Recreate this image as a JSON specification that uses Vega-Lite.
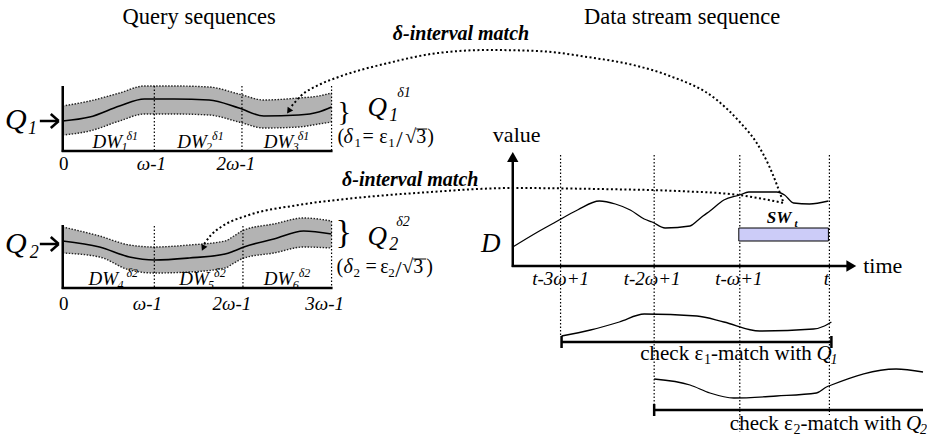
{
"$schema": "https://vega.github.io/schema/vega-lite/v6.json",
"width": 927, "height": 439, "padding": 0,
"autosize": {"type": "fit", "contains": "padding"},
"background": "white",
"config": {"view": {"stroke": null}, "text": {"font": "Liberation Serif, DejaVu Serif, serif", "color": "black", "align": "left", "baseline": "alphabetic"}},
"datasets": {
"bands": [
{"band":"Q1","x":63,"hi":106,"c":121,"lo":135},
{"band":"Q1","x":90,"hi":101,"c":117,"lo":131},
{"band":"Q1","x":120,"hi":93,"c":106,"lo":121},
{"band":"Q1","x":145,"hi":86,"c":99,"lo":114},
{"band":"Q1","x":175,"hi":86,"c":99,"lo":114},
{"band":"Q1","x":210,"hi":87,"c":100,"lo":115},
{"band":"Q1","x":240,"hi":94,"c":108,"lo":122},
{"band":"Q1","x":265,"hi":100,"c":116,"lo":128},
{"band":"Q1","x":300,"hi":98,"c":115,"lo":127},
{"band":"Q1","x":320,"hi":96,"c":112,"lo":124},
{"band":"Q1","x":333,"hi":93,"c":107,"lo":122},
{"band":"Q2","x":63,"hi":227,"c":241,"lo":253},
{"band":"Q2","x":100,"hi":236,"c":247,"lo":257},
{"band":"Q2","x":130,"hi":245,"c":257,"lo":270},
{"band":"Q2","x":155,"hi":247,"c":260,"lo":273},
{"band":"Q2","x":190,"hi":245,"c":258,"lo":272},
{"band":"Q2","x":226,"hi":241,"c":254,"lo":268},
{"band":"Q2","x":235,"hi":236,"c":251,"lo":263},
{"band":"Q2","x":245,"hi":230,"c":247,"lo":258},
{"band":"Q2","x":275,"hi":224,"c":239,"lo":253},
{"band":"Q2","x":305,"hi":218,"c":231,"lo":247},
{"band":"Q2","x":333,"hi":221,"c":234,"lo":248}
],
"curves": [
{"curve":"D","x":515,"y":247},{"curve":"D","x":540,"y":232},{"curve":"D","x":558,"y":222},{"curve":"D","x":580,"y":210},{"curve":"D","x":602,"y":201},{"curve":"D","x":618,"y":204},{"curve":"D","x":633,"y":210},{"curve":"D","x":647,"y":219},{"curve":"D","x":655,"y":222},{"curve":"D","x":668,"y":228},{"curve":"D","x":693,"y":226},{"curve":"D","x":700,"y":221},{"curve":"D","x":706,"y":216},{"curve":"D","x":713,"y":211},{"curve":"D","x":727,"y":200},{"curve":"D","x":743,"y":195},{"curve":"D","x":752,"y":192},{"curve":"D","x":780,"y":192},{"curve":"D","x":788,"y":195},{"curve":"D","x":797,"y":203},{"curve":"D","x":813,"y":204},{"curve":"D","x":832,"y":201},
{"curve":"C1","x":564,"y":336},{"curve":"C1","x":593,"y":330},{"curve":"C1","x":622,"y":322},{"curve":"C1","x":647,"y":314},{"curve":"C1","x":700,"y":316},{"curve":"C1","x":727,"y":322},{"curve":"C1","x":763,"y":331},{"curve":"C1","x":817,"y":329},{"curve":"C1","x":828,"y":326},{"curve":"C1","x":835,"y":322},
{"curve":"C2","x":657,"y":379},{"curve":"C2","x":693,"y":385},{"curve":"C2","x":713,"y":393},{"curve":"C2","x":737,"y":398},{"curve":"C2","x":780,"y":396},{"curve":"C2","x":820,"y":393},{"curve":"C2","x":830,"y":387},{"curve":"C2","x":835,"y":385},{"curve":"C2","x":900,"y":369},{"curve":"C2","x":927,"y":372}
],
"arcs": [
{"arc":"A1","x":293,"y":106},{"arc":"A1","x":302,"y":96},{"arc":"A1","x":320,"y":85},{"arc":"A1","x":340,"y":77},{"arc":"A1","x":390,"y":63},{"arc":"A1","x":440,"y":53},{"arc":"A1","x":490,"y":50},{"arc":"A1","x":540,"y":51},{"arc":"A1","x":590,"y":57},{"arc":"A1","x":640,"y":66},{"arc":"A1","x":670,"y":75},{"arc":"A1","x":720,"y":100},{"arc":"A1","x":743,"y":122},{"arc":"A1","x":760,"y":143},{"arc":"A1","x":772,"y":165},{"arc":"A1","x":787,"y":203},
{"arc":"A2","x":205,"y":244},{"arc":"A2","x":212,"y":235},{"arc":"A2","x":222,"y":227},{"arc":"A2","x":250,"y":215},{"arc":"A2","x":300,"y":205},{"arc":"A2","x":367,"y":197},{"arc":"A2","x":433,"y":192},{"arc":"A2","x":480,"y":189},{"arc":"A2","x":515,"y":188},{"arc":"A2","x":600,"y":189},{"arc":"A2","x":680,"y":191},{"arc":"A2","x":742,"y":195},{"arc":"A2","x":787,"y":203}
],
"rules": [
{"k":"axis","x":63,"y":86,"x2":63,"y2":152},{"k":"axis","x":62,"y":151,"x2":334,"y2":151},
{"k":"axis","x":63,"y":225,"x2":63,"y2":289},{"k":"axis","x":62,"y":288,"x2":334,"y2":288},
{"k":"axis","x":40,"y":121,"x2":58,"y2":121},{"k":"axis","x":51,"y":114,"x2":59,"y2":121},{"k":"axis","x":51,"y":128,"x2":59,"y2":121},
{"k":"axis","x":40,"y":244,"x2":58,"y2":244},{"k":"axis","x":51,"y":237,"x2":59,"y2":244},{"k":"axis","x":51,"y":251,"x2":59,"y2":244},
{"k":"axis","x":515,"y":160,"x2":515,"y2":267},{"k":"axis","x":514,"y":266,"x2":852,"y2":266},
{"k":"axis","x":564,"y":342,"x2":835,"y2":342},{"k":"axis","x":564,"y":336,"x2":564,"y2":348},{"k":"axis","x":835,"y":336,"x2":835,"y2":348},
{"k":"axis","x":657,"y":410,"x2":927,"y2":410},{"k":"axis","x":657,"y":404,"x2":657,"y2":416},
{"k":"grid","x":155,"y":86,"x2":155,"y2":151},{"k":"grid","x":243,"y":86,"x2":243,"y2":151},{"k":"grid","x":333,"y":86,"x2":333,"y2":151},
{"k":"grid","x":155,"y":226,"x2":155,"y2":288},{"k":"grid","x":244,"y":226,"x2":244,"y2":288},{"k":"grid","x":333,"y":221,"x2":333,"y2":288},
{"k":"grid","x":563,"y":155,"x2":563,"y2":337},{"k":"grid","x":657,"y":155,"x2":657,"y2":404},{"k":"grid","x":743,"y":155,"x2":743,"y2":432},{"k":"grid","x":833,"y":155,"x2":833,"y2":415},
{"k":"thin","x":418,"y":129,"x2":429,"y2":129},{"k":"thin","x":415,"y":259,"x2":428,"y2":259}
],
"texts": [
{"k":"title","t":"Query sequences","x":200,"y":24},{"k":"title","t":"Data stream sequence","x":685,"y":24},
{"k":"hdr","t":"δ-interval match","x":463,"y":40},{"k":"hdr","t":"δ-interval match","x":412,"y":186},
{"k":"bigl","t":"Q","x":5,"y":129},{"k":"bigl","t":"Q","x":5,"y":253},
{"k":"big","t":"Q","x":369,"y":116},{"k":"big","t":"Q","x":369,"y":245},{"k":"big","t":"D","x":483,"y":252},
{"k":"bigsub","t":"1","x":28,"y":134},{"k":"bigsub","t":"2","x":30,"y":258},{"k":"bigsub","t":"1","x":391,"y":121},{"k":"bigsub","t":"2","x":391,"y":250},
{"k":"qsup","t":"δ1","x":399,"y":97},{"k":"qsup","t":"δ2","x":398,"y":226},
{"k":"dw","t":"DW","x":93,"y":148},{"k":"dw","t":"DW","x":178,"y":148},{"k":"dw","t":"DW","x":265,"y":148},{"k":"dw","t":"DW","x":89,"y":285},{"k":"dw","t":"DW","x":180,"y":285},{"k":"dw","t":"DW","x":265,"y":285},
{"k":"small","t":"1","x":122,"y":151},{"k":"small","t":"2","x":207,"y":151},{"k":"small","t":"3","x":294,"y":151},{"k":"small","t":"4","x":118,"y":289},{"k":"small","t":"5","x":209,"y":289},{"k":"small","t":"6","x":294,"y":289},
{"k":"small","t":"δ1","x":127,"y":140},{"k":"small","t":"δ1","x":213,"y":140},{"k":"small","t":"δ1","x":299,"y":140},{"k":"small","t":"δ2","x":127,"y":277},{"k":"small","t":"δ2","x":215,"y":277},{"k":"small","t":"δ2","x":300,"y":277},
{"k":"tick0","t":"0","x":64,"y":170},{"k":"tick0","t":"0","x":64,"y":310},
{"k":"tick","t":"ω-1","x":152,"y":170},{"k":"tick","t":"2ω-1","x":237,"y":170},{"k":"tick","t":"ω-1","x":148,"y":310},{"k":"tick","t":"2ω-1","x":233,"y":310},{"k":"tick","t":"3ω-1","x":326,"y":310},
{"k":"tick","t":"t-3ω+1","x":563,"y":285},{"k":"tick","t":"t-2ω+1","x":655,"y":285},{"k":"tick","t":"t-ω+1","x":742,"y":285},{"k":"tick","t":"t","x":830,"y":285},
{"k":"label","t":"value","x":495,"y":142},{"k":"label","t":"time","x":867,"y":273},
{"k":"body","t":"(","x":339,"y":143},{"k":"body","t":"=","x":364,"y":143},{"k":"body","t":"ε","x":381,"y":143},{"k":"body","t":"√3","x":407,"y":143},{"k":"body","t":")","x":429,"y":143},
{"k":"body","t":"(","x":338,"y":273},{"k":"body","t":"=","x":367,"y":273},{"k":"body","t":"ε","x":382,"y":273},{"k":"body","t":"√3","x":404,"y":273},{"k":"body","t":")","x":428,"y":273},
{"k":"bodyi","t":"δ","x":345,"y":143},{"k":"bodyi","t":"δ","x":345,"y":273},
{"k":"fsub","t":"1","x":356,"y":147},{"k":"fsub","t":"1","x":390,"y":147},{"k":"fsub","t":"2","x":355,"y":277},{"k":"fsub","t":"2","x":390,"y":277},
{"k":"slash","t":"/","x":398,"y":147},{"k":"slash","t":"/","x":397,"y":277},
{"k":"check","t":"check ε","x":643,"y":360},{"k":"check","t":"-match with","x":714,"y":360},{"k":"check","t":"check ε","x":733,"y":430},{"k":"check","t":"-match with","x":804,"y":430},
{"k":"checki","t":"Q","x":820,"y":360},{"k":"checki","t":"Q","x":910,"y":430},
{"k":"checksub","t":"1","x":707,"y":364},{"k":"checksub","t":"2","x":797,"y":434},
{"k":"checkisub","t":"1","x":834,"y":364},{"k":"checkisub","t":"2","x":924,"y":434},
{"k":"sw","t":"SW","x":770,"y":223},{"k":"swsub","t":"t","x":798,"y":227},
{"k":"brace1","t":"}","x":339,"y":113},{"k":"brace2","t":"}","x":337,"y":233}
]
},
"encoding": {
"x": {"field": "x", "type": "quantitative", "scale": {"domain": [0, 927], "nice": false, "zero": false}, "axis": null},
"y": {"field": "y", "type": "quantitative", "scale": {"domain": [0, 439], "reverse": true, "nice": false, "zero": false}, "axis": null}
},
"layer": [
{"data": {"name": "bands"}, "mark": {"type": "area", "color": "#b3b3b3", "interpolate": "monotone"},
 "encoding": {"y": {"field": "hi", "type": "quantitative", "scale": {"domain": [0, 439], "reverse": true, "nice": false, "zero": false}, "axis": null}, "y2": {"field": "lo"}, "detail": {"field": "band", "type": "nominal"}}},
{"data": {"name": "bands"}, "mark": {"type": "line", "color": "#222", "strokeWidth": 1.4, "strokeDash": [1.5, 1.5], "interpolate": "monotone"},
 "encoding": {"y": {"field": "hi", "type": "quantitative", "scale": {"domain": [0, 439], "reverse": true, "nice": false, "zero": false}, "axis": null}, "detail": {"field": "band", "type": "nominal"}}},
{"data": {"name": "bands"}, "mark": {"type": "line", "color": "#222", "strokeWidth": 1.4, "strokeDash": [1.5, 1.5], "interpolate": "monotone"},
 "encoding": {"y": {"field": "lo", "type": "quantitative", "scale": {"domain": [0, 439], "reverse": true, "nice": false, "zero": false}, "axis": null}, "detail": {"field": "band", "type": "nominal"}}},
{"data": {"name": "bands"}, "mark": {"type": "line", "color": "black", "strokeWidth": 1.6, "interpolate": "monotone"},
 "encoding": {"y": {"field": "c", "type": "quantitative", "scale": {"domain": [0, 439], "reverse": true, "nice": false, "zero": false}, "axis": null}, "detail": {"field": "band", "type": "nominal"}}},
{"data": {"name": "curves"}, "mark": {"type": "line", "color": "black", "strokeWidth": 1.3, "interpolate": "monotone"},
 "encoding": {"detail": {"field": "curve", "type": "nominal"}}},
{"data": {"name": "rules"}, "transform": [{"filter": "datum.k == 'grid'"}], "mark": {"type": "rule", "color": "black", "strokeWidth": 1.2, "strokeDash": [1.5, 2]},
 "encoding": {"x2": {"field": "x2"}, "y2": {"field": "y2"}}},
{"data": {"name": "rules"}, "transform": [{"filter": "datum.k == 'axis'"}], "mark": {"type": "rule", "color": "black", "strokeWidth": 2.5},
 "encoding": {"x2": {"field": "x2"}, "y2": {"field": "y2"}}},
{"data": {"name": "rules"}, "transform": [{"filter": "datum.k == 'thin'"}], "mark": {"type": "rule", "color": "black", "strokeWidth": 1},
 "encoding": {"x2": {"field": "x2"}, "y2": {"field": "y2"}}},
{"data": {"name": "arcs"}, "mark": {"type": "line", "color": "black", "strokeWidth": 2, "strokeDash": [2, 2.5], "interpolate": "monotone"},
 "encoding": {"detail": {"field": "arc", "type": "nominal"}}},
{"data": {"values": [{"x": 742, "x2": 832, "y": 228, "y2": 241}]}, "mark": {"type": "rect", "fill": "#ccccf8", "stroke": "black", "strokeWidth": 1},
 "encoding": {"x2": {"field": "x2"}, "y2": {"field": "y2"}}},
{"data": {"values": [{"x": 515, "y": 157}]}, "mark": {"type": "point", "shape": "triangle-up", "filled": true, "color": "black", "size": 130, "opacity": 1}, "encoding": {}},
{"data": {"values": [{"x": 855, "y": 266}]}, "mark": {"type": "point", "shape": "triangle-up", "angle": 90, "filled": true, "color": "black", "size": 130, "opacity": 1}, "encoding": {}},
{"data": {"values": [{"x": 290, "y": 111}]}, "mark": {"type": "point", "shape": "triangle-up", "angle": 215, "filled": true, "color": "black", "size": 45, "opacity": 1}, "encoding": {}},
{"data": {"values": [{"x": 204, "y": 248}]}, "mark": {"type": "point", "shape": "triangle-up", "angle": 205, "filled": true, "color": "black", "size": 45, "opacity": 1}, "encoding": {}},
{"data": {"name": "texts"}, "transform": [{"filter": "datum.k == 'title'"}], "mark": {"type": "text", "fontSize": 22.5, "align": "center"}, "encoding": {"text": {"field": "t"}}},
{"data": {"name": "texts"}, "transform": [{"filter": "datum.k == 'hdr'"}], "mark": {"type": "text", "fontSize": 20, "align": "center", "fontWeight": "bold", "fontStyle": "italic"}, "encoding": {"text": {"field": "t"}}},
{"data": {"name": "texts"}, "transform": [{"filter": "datum.k == 'bigl'"}], "mark": {"type": "text", "fontSize": 30, "fontStyle": "italic"}, "encoding": {"text": {"field": "t"}}},
{"data": {"name": "texts"}, "transform": [{"filter": "datum.k == 'big'"}], "mark": {"type": "text", "fontSize": 27, "fontStyle": "italic"}, "encoding": {"text": {"field": "t"}}},
{"data": {"name": "texts"}, "transform": [{"filter": "datum.k == 'bigsub'"}], "mark": {"type": "text", "fontSize": 18, "fontStyle": "italic"}, "encoding": {"text": {"field": "t"}}},
{"data": {"name": "texts"}, "transform": [{"filter": "datum.k == 'qsup'"}], "mark": {"type": "text", "fontSize": 14, "fontStyle": "italic"}, "encoding": {"text": {"field": "t"}}},
{"data": {"name": "texts"}, "transform": [{"filter": "datum.k == 'dw'"}], "mark": {"type": "text", "fontSize": 19, "fontStyle": "italic"}, "encoding": {"text": {"field": "t"}}},
{"data": {"name": "texts"}, "transform": [{"filter": "datum.k == 'small'"}], "mark": {"type": "text", "fontSize": 12, "fontStyle": "italic"}, "encoding": {"text": {"field": "t"}}},
{"data": {"name": "texts"}, "transform": [{"filter": "datum.k == 'tick0'"}], "mark": {"type": "text", "fontSize": 19, "align": "center"}, "encoding": {"text": {"field": "t"}}},
{"data": {"name": "texts"}, "transform": [{"filter": "datum.k == 'tick'"}], "mark": {"type": "text", "fontSize": 19, "align": "center", "fontStyle": "italic"}, "encoding": {"text": {"field": "t"}}},
{"data": {"name": "texts"}, "transform": [{"filter": "datum.k == 'label'"}], "mark": {"type": "text", "fontSize": 22}, "encoding": {"text": {"field": "t"}}},
{"data": {"name": "texts"}, "transform": [{"filter": "datum.k == 'body'"}], "mark": {"type": "text", "fontSize": 20}, "encoding": {"text": {"field": "t"}}},
{"data": {"name": "texts"}, "transform": [{"filter": "datum.k == 'bodyi'"}], "mark": {"type": "text", "fontSize": 20, "fontStyle": "italic"}, "encoding": {"text": {"field": "t"}}},
{"data": {"name": "texts"}, "transform": [{"filter": "datum.k == 'fsub'"}], "mark": {"type": "text", "fontSize": 13}, "encoding": {"text": {"field": "t"}}},
{"data": {"name": "texts"}, "transform": [{"filter": "datum.k == 'slash'"}], "mark": {"type": "text", "fontSize": 23}, "encoding": {"text": {"field": "t"}}},
{"data": {"name": "texts"}, "transform": [{"filter": "datum.k == 'check'"}], "mark": {"type": "text", "fontSize": 21}, "encoding": {"text": {"field": "t"}}},
{"data": {"name": "texts"}, "transform": [{"filter": "datum.k == 'checki'"}], "mark": {"type": "text", "fontSize": 21, "fontStyle": "italic"}, "encoding": {"text": {"field": "t"}}},
{"data": {"name": "texts"}, "transform": [{"filter": "datum.k == 'checksub'"}], "mark": {"type": "text", "fontSize": 14}, "encoding": {"text": {"field": "t"}}},
{"data": {"name": "texts"}, "transform": [{"filter": "datum.k == 'checkisub'"}], "mark": {"type": "text", "fontSize": 14, "fontStyle": "italic"}, "encoding": {"text": {"field": "t"}}},
{"data": {"name": "texts"}, "transform": [{"filter": "datum.k == 'sw'"}], "mark": {"type": "text", "fontSize": 17, "fontWeight": "bold", "fontStyle": "italic"}, "encoding": {"text": {"field": "t"}}},
{"data": {"name": "texts"}, "transform": [{"filter": "datum.k == 'swsub'"}], "mark": {"type": "text", "fontSize": 11, "fontWeight": "bold", "fontStyle": "italic"}, "encoding": {"text": {"field": "t"}}},
{"data": {"name": "texts"}, "transform": [{"filter": "datum.k == 'brace1'"}], "mark": {"type": "text", "fontSize": 28, "baseline": "middle"}, "encoding": {"text": {"field": "t"}}},
{"data": {"name": "texts"}, "transform": [{"filter": "datum.k == 'brace2'"}], "mark": {"type": "text", "fontSize": 34, "baseline": "middle"}, "encoding": {"text": {"field": "t"}}}
]
}
